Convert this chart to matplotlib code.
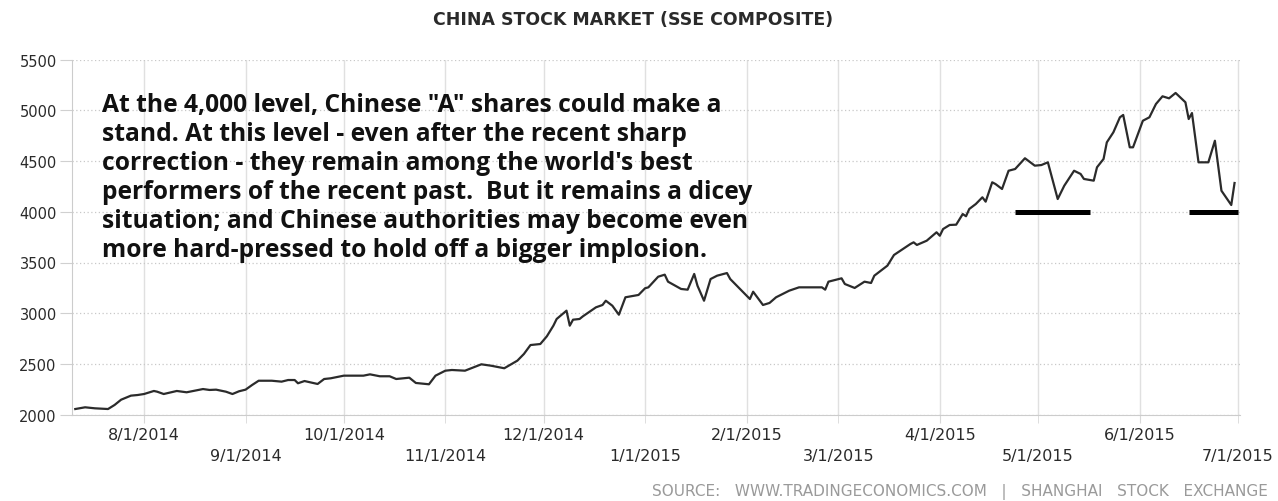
import matplotlib
matplotlib.use('Agg')
import matplotlib.pyplot as plt
import pandas as pd

# SSE composite
dates = ['2014-07-11', '2014-07-14', '2014-07-17', '2014-07-21', '2014-07-23', '2014-07-25',
         '2014-07-28', '2014-07-30', '2014-08-01', '2014-08-04', '2014-08-05', '2014-08-07',
         '2014-08-11', '2014-08-14', '2014-08-16', '2014-08-19', '2014-08-21', '2014-08-23',
         '2014-08-26', '2014-08-28', '2014-08-30', '2014-09-01', '2014-09-03', '2014-09-05',
         '2014-09-09', '2014-09-12', '2014-09-14', '2014-09-16', '2014-09-17', '2014-09-19',
         '2014-09-23', '2014-09-25', '2014-09-27',
         '2014-10-01', '2014-10-07', '2014-10-09', '2014-10-12', '2014-10-15', '2014-10-17',
         '2014-10-21', '2014-10-23', '2014-10-27', '2014-10-29', '2014-11-01', '2014-11-03',
         '2014-11-07', '2014-11-12', '2014-11-15', '2014-11-19', '2014-11-20', '2014-11-23',
         '2014-11-25', '2014-11-27', '2014-11-30', '2014-12-02', '2014-12-04', '2014-12-05',
         '2014-12-08', '2014-12-09', '2014-12-10', '2014-12-12',
         '2014-12-13', '2014-12-17', '2014-12-19', '2014-12-20', '2014-12-22', '2014-12-24',
         '2014-12-26', '2014-12-30', '2015-01-01', '2015-01-02', '2015-01-05', '2015-01-07',
         '2015-01-08', '2015-01-12', '2015-01-14', '2015-01-16', '2015-01-17', '2015-01-19',
         '2015-01-21', '2015-01-23', '2015-01-26', '2015-01-27', '2015-01-31', '2015-02-02',
         '2015-02-03', '2015-02-06', '2015-02-08', '2015-02-10', '2015-02-14', '2015-02-17',
         '2015-02-23',
         '2015-02-24', '2015-02-25', '2015-02-26', '2015-03-02', '2015-03-03', '2015-03-06',
         '2015-03-09', '2015-03-11', '2015-03-12', '2015-03-16', '2015-03-18', '2015-03-23',
         '2015-03-24', '2015-03-25', '2015-03-28', '2015-03-31', '2015-04-01', '2015-04-02',
         '2015-04-04', '2015-04-06', '2015-04-08', '2015-04-09', '2015-04-10', '2015-04-12',
         '2015-04-14', '2015-04-15', '2015-04-17', '2015-04-18', '2015-04-20', '2015-04-22',
         '2015-04-24', '2015-04-27', '2015-04-30', '2015-05-02', '2015-05-04', '2015-05-07',
         '2015-05-09', '2015-05-12', '2015-05-14', '2015-05-15', '2015-05-18', '2015-05-19',
         '2015-05-21', '2015-05-22', '2015-05-24', '2015-05-26', '2015-05-27', '2015-05-29',
         '2015-05-30', '2015-06-02', '2015-06-04', '2015-06-06', '2015-06-08', '2015-06-10',
         '2015-06-12', '2015-06-15', '2015-06-16', '2015-06-17', '2015-06-19', '2015-06-22',
         '2015-06-24', '2015-06-26', '2015-06-29', '2015-06-30']
values = [2055, 2072, 2062, 2055, 2095, 2147, 2187, 2193, 2203, 2233, 2226, 2203,
          2233, 2220, 2233, 2252, 2243, 2246, 2226, 2203, 2230, 2246, 2292, 2334,
          2334, 2325, 2341, 2341, 2309, 2331, 2302, 2351, 2358,
          2384, 2384, 2397, 2378, 2378, 2351, 2364, 2312, 2299, 2384, 2433, 2440,
          2433, 2496, 2482, 2457, 2476, 2532, 2598, 2686, 2696, 2772, 2877, 2943,
          3025, 2877, 2936, 2943,
          2969, 3058, 3081, 3123, 3074, 2985, 3157, 3180, 3246, 3255, 3360, 3380,
          3311, 3239, 3232, 3387, 3271, 3123, 3337, 3370, 3396, 3337, 3206, 3140,
          3212, 3081, 3101, 3157, 3222, 3255, 3255,
          3255, 3232, 3311, 3344, 3288, 3249, 3311, 3298, 3370, 3469, 3574, 3682,
          3699, 3673, 3715, 3798, 3764, 3830, 3870, 3873, 3978, 3956, 4028, 4077,
          4143, 4100, 4291, 4274, 4225, 4405, 4422, 4528, 4455, 4461, 4488, 4126,
          4257, 4405, 4373, 4324, 4307, 4439, 4521, 4685, 4784, 4932, 4955, 4636,
          4636, 4898, 4932, 5063, 5139, 5119, 5172, 5080, 4915, 4974, 4488, 4488,
          4701, 4208, 4067, 4284]

upper_ticks = ['2014-08-01', '2014-10-01', '2014-12-01', '2015-02-01', '2015-04-01', '2015-06-01']
upper_labels = ['8/1/2014', '10/1/2014', '12/1/2014', '2/1/2015', '4/1/2015', '6/1/2015']
lower_ticks = ['2014-09-01', '2014-11-01', '2015-01-01', '2015-03-01', '2015-05-01', '2015-07-01']
lower_labels = ['9/1/2014', '11/1/2014', '1/1/2015', '3/1/2015', '5/1/2015', '7/1/2015']
y_ticks = [2000, 2500, 3000, 3500, 4000, 4500, 5000, 5500]

support_level = 4000
support_starts = ['2015-04-24', '2015-06-16']
support_ends = ['2015-05-17', '2015-07-01']

note_lines = ['At the 4,000 level, Chinese "A" shares could make a',
              'stand. At this level - even after the recent sharp',
              "correction - they remain among the world's best",
              'performers of the recent past.  But it remains a dicey',
              'situation; and Chinese authorities may become even',
              'more hard-pressed to hold off a bigger implosion.']

W, H = 1278, 502
fig = plt.figure(figsize=(W / 100, H / 100), dpi=100)
ax = fig.add_axes([72 / W, 1 - 415.6 / H, (1240 - 72) / W, (415.6 - 60.7) / H])

ax.plot(pd.to_datetime(dates), values, color='#2b2b2b', lw=1.6, zorder=3)
ax.hlines([support_level] * len(support_starts), pd.to_datetime(support_starts),
          pd.to_datetime(support_ends), color='black', lw=3.6, zorder=4)

ax.set_xlim(pd.Timestamp('2014-07-10'), pd.Timestamp('2015-07-01 16:00'))
ax.set_ylim(2000, 5500)

ax.set_xticks(pd.to_datetime(upper_ticks), labels=upper_labels)
ax.set_xticks(pd.to_datetime(lower_ticks), labels=lower_labels, minor=True)
ax.set_yticks(y_ticks)

ax.tick_params(axis='x', which='major', length=6, color='#d8d8d8', pad=3,
               labelsize=11.5, labelcolor='#2a2a2a')
ax.tick_params(axis='x', which='minor', length=6, color='#d8d8d8', pad=18,
               labelsize=11.5, labelcolor='#2a2a2a')
ax.tick_params(axis='y', length=9, color='#d0d0d0', pad=2,
               labelsize=10.5, labelcolor='#2a2a2a')

ax.grid(axis='x', which='both', color='#e0e0e0', lw=1, ls='-')
ax.grid(axis='y', color='#c8c8c8', lw=0.9, ls=(0, (1, 2)))
ax.set_axisbelow(True)

for side in ['top', 'right']:
    ax.spines[side].set_visible(False)
for side in ['left', 'bottom']:
    ax.spines[side].set_color('#cccccc')

fig.text(633 / W, 1 - 20 / H, 'CHINA STOCK MARKET (SSE COMPOSITE)', ha='center', va='center',
         fontsize=12.5, fontweight='bold', color='#2a2a2a')
fig.text(1268 / W, 1 - 492 / H,
         'SOURCE:   WWW.TRADINGECONOMICS.COM   |   SHANGHAI   STOCK   EXCHANGE',
         ha='right', va='center', fontsize=11, color='#9a9a9a')

for i, line in enumerate(note_lines):
    fig.text(102 / W, 1 - (112 + 29 * i) / H, line, ha='left', va='baseline',
             family='Open Sans', fontweight='bold', fontsize=17.7, color='#111111')

fig.savefig('out.png', dpi=100)
